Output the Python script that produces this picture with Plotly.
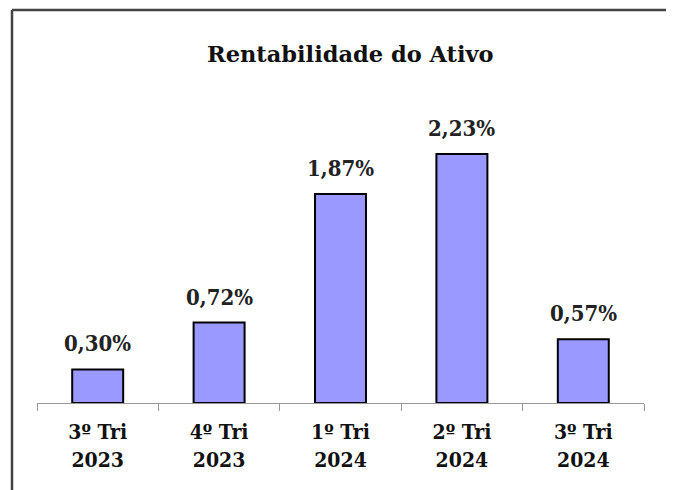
import plotly.graph_objects as go

categories = ["3º Tri<br>2023", "4º Tri<br>2023", "1º Tri<br>2024", "2º Tri<br>2024", "3º Tri<br>2024"]
values = [0.30, 0.72, 1.87, 2.23, 0.57]
value_labels = ["0,30%", "0,72%", "1,87%", "2,23%", "0,57%"]
title_text = "Rentabilidade do Ativo"

# page has 8px body margin, so the figure is sized to fit the window
W, H = 666, 482
ml, mr, mt, mb = 29, 30, 92, 87
PW, PH = W - ml - mr, H - mt - mb
ymax = PH / 111.7

serif = "DejaVu Serif"
serif_c = "DejaVu Serif Condensed"

def px_x(x):
    return (x - 8 - ml) / PW

def px_y(y):
    return (H - mb - (y - 8)) / PH

fig = go.Figure()
fig.add_trace(go.Bar(
    x=categories, y=values,
    width=0.42,
    marker=dict(color="#9999FF", line=dict(color="#000000", width=2)),
    hoverinfo="skip",
))

annotations = []
for c, v, t in zip(categories, values, value_labels):
    annotations.append(dict(
        x=c, y=v, xref="x", yref="y", text=f"<b>{t}</b>", showarrow=False,
        yanchor="bottom", yshift=11,
        font=dict(family=serif_c, size=22, color="#222222"),
    ))
annotations.append(dict(
    x=px_x(350), y=px_y(54),
    xref="paper", yref="paper", text=f"<b>{title_text}</b>", showarrow=False,
    xanchor="center", yanchor="middle",
    font=dict(family=serif, size=22.5, color="#111111"),
))

fig.update_layout(
    width=W, height=H,
    margin=dict(l=ml, r=mr, t=mt, b=mb),
    paper_bgcolor="white", plot_bgcolor="white",
    showlegend=False,
    annotations=annotations,
    xaxis=dict(
        type="category",
        showline=True, linecolor="#999999", linewidth=1,
        ticks="outside", tickson="boundaries", ticklen=7, tickcolor="#999999", tickwidth=1,
        tickfont=dict(family=serif_c, size=21, color="#111111"),
        ticklabelstandoff=10,
        showgrid=False, zeroline=False,
        tickprefix="<b>", ticksuffix="</b>",
    ),
    yaxis=dict(range=[0, ymax], visible=False, showgrid=False, zeroline=False),
    shapes=[
        dict(type="line", xref="paper", yref="paper",
             x0=px_x(12), x1=px_x(680), y0=px_y(10), y1=px_y(10),
             line=dict(color="#444444", width=2.5)),
        dict(type="line", xref="paper", yref="paper",
             x0=px_x(12), x1=px_x(12), y0=px_y(10), y1=px_y(500),
             line=dict(color="#444444", width=2.5)),
    ],
)

fig.write_html("out.html")
